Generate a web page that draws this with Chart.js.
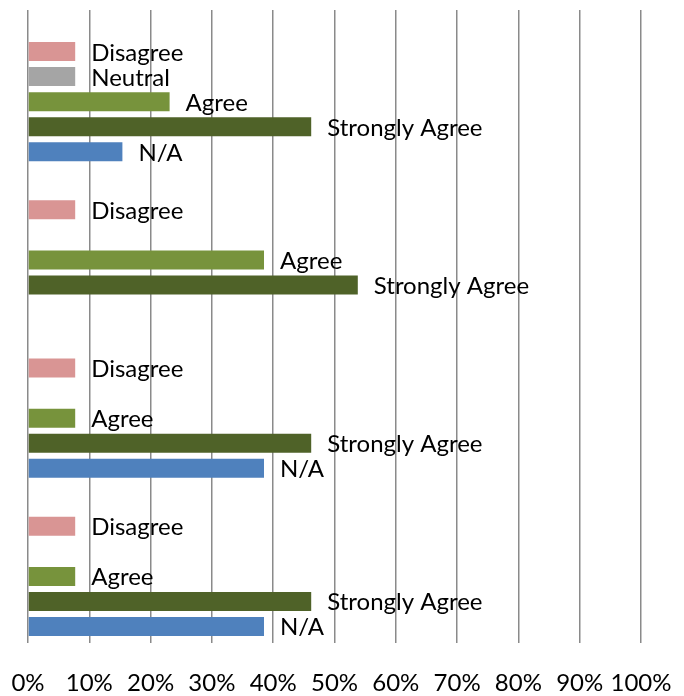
<!DOCTYPE html>
<html>
<head>
<meta charset="utf-8">
<script src="https://cdn.jsdelivr.net/npm/chart.js@4/dist/chart.umd.min.js"></script>
<style>
  html, body { margin: 0; padding: 0; background: #fff; }
  #wrap { width: 684px; height: 696px; }
</style>
</head>
<body>
<div id="wrap"><canvas id="myChart" width="684" height="696"></canvas></div>
<script>
// four survey items, responses as % of 13
const categories = ['Item 1', 'Item 2', 'Item 3', 'Item 4']
const stronglyDisagree = [0, 0, 0, 0]
const disagree = [7.7, 7.7, 7.7, 7.7]
const neutral = [7.7, 0, 0, 0]
const agree = [23.1, 38.5, 7.7, 7.7]
const stronglyAgree = [46.2, 53.8, 46.2, 46.2]
const notApplicable = [15.4, 0, 38.5, 38.5]
const tickValues = [0, 10, 20, 30, 40, 50, 60, 70, 80, 90, 100]

const FONT = 'Lato, "Open Sans", sans-serif'

// label each bar with its series name, just right of the bar end
const barLabels = {
  id: 'barLabels',
  afterDatasetsDraw(chart) {
    const ctx = chart.ctx
    const xs = chart.scales.x
    ctx.save()
    ctx.font = '24px ' + FONT
    ctx.fillStyle = '#000'
    ctx.textAlign = 'left'
    ctx.textBaseline = 'alphabetic'
    chart.data.datasets.forEach((ds, i) => {
      const meta = chart.getDatasetMeta(i)
      meta.data.forEach((bar, j) => {
        const v = ds.data[j]
        if (!v) return
        const x = xs.getPixelForValue(v) + 16
        ctx.fillText(ds.label, x, bar.y + 9)
      })
    })
    ctx.restore()
  },
}

const ctx = document.getElementById('myChart').getContext('2d')
const data = {
  labels: categories,
  datasets: [
    { label: 'Strongly Disagree', data: stronglyDisagree, backgroundColor: '#C0504D' },
    { label: 'Disagree', data: disagree, backgroundColor: '#D99594' },
    { label: 'Neutral', data: neutral, backgroundColor: '#A5A5A5' },
    { label: 'Agree', data: agree, backgroundColor: '#77933C' },
    { label: 'Strongly Agree', data: stronglyAgree, backgroundColor: '#4F6228' },
    { label: 'N/A', data: notApplicable, backgroundColor: '#4F81BD' },
  ],
}

new Chart(ctx, {
  type: 'bar',
  data,
  plugins: [barLabels],
  options: {
    indexAxis: 'y',
    responsive: false,
    animation: false,
    categoryPercentage: 0.948,
    barPercentage: 0.76,
    layout: { padding: { left: 0, right: 0, top: 10, bottom: 0 } },
    plugins: {
      legend: { display: false },
      tooltip: { enabled: false },
    },
    scales: {
      x: {
        min: 0,
        max: 100,
        afterBuildTicks(scale) {
          scale.ticks = tickValues.map(v => ({ value: v }))
        },
        afterFit(scale) {
          scale.height = 53
          scale.paddingLeft = 28
          scale.paddingRight = 43
        },
        grid: { color: '#8a8a8a', lineWidth: 1.5, drawTicks: false },
        border: { display: false },
        ticks: {
          color: '#000',
          padding: 28,
          maxRotation: 0,
          autoSkip: false,
          font: { family: FONT, size: 24, lineHeight: 1 },
          callback: v => v + '%',
        },
      },
      y: {
        display: false,
        grid: { display: false },
      },
    },
  },
})
</script>
</body>
</html>
